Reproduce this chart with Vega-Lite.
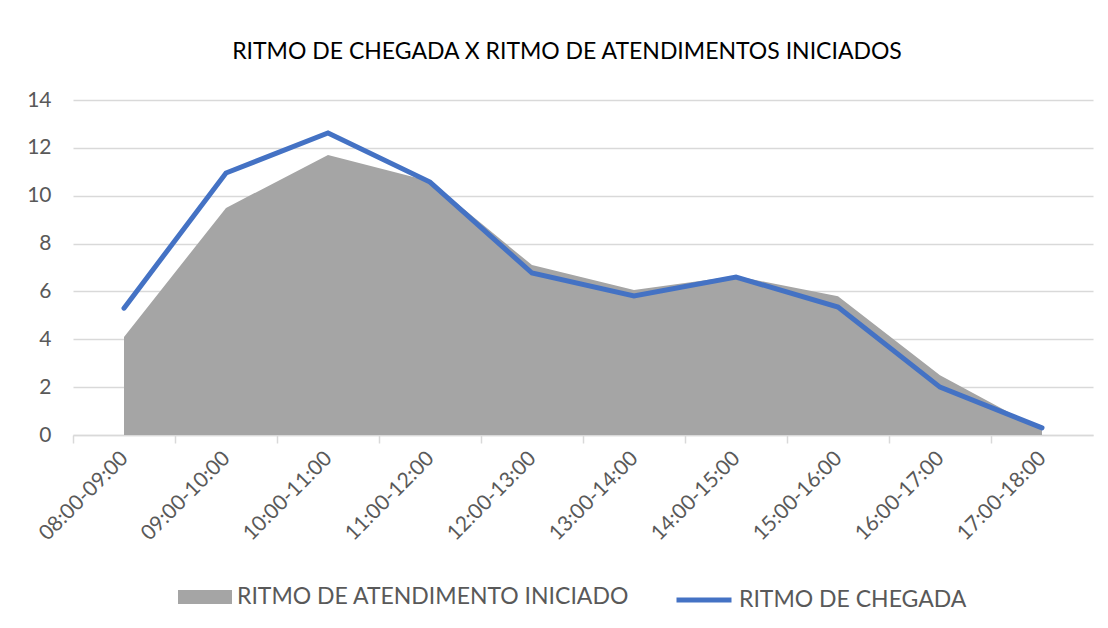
{
  "$schema": "https://vega.github.io/schema/vega-lite/v6.json",
  "width": 1020,
  "height": 335,
  "autosize": {"type": "none"},
  "padding": {"left": 73, "top": 100, "right": 15, "bottom": 193},
  "background": "white",
  "title": {
    "text": "RITMO DE CHEGADA X RITMO DE ATENDIMENTOS INICIADOS",
    "anchor": "middle",
    "frame": "group",
    "offset": 25,
    "dx": -16,
    "font": "Lato",
    "fontSize": 23,
    "fontWeight": "normal",
    "color": "#000000"
  },
  "data": {
    "values": [
      {"hora": "08:00-09:00", "atendimento": 4.1, "chegada": 5.3},
      {"hora": "09:00-10:00", "atendimento": 9.49, "chegada": 10.95},
      {"hora": "10:00-11:00", "atendimento": 11.7, "chegada": 12.62},
      {"hora": "11:00-12:00", "atendimento": 10.6, "chegada": 10.57},
      {"hora": "12:00-13:00", "atendimento": 7.1, "chegada": 6.77},
      {"hora": "13:00-14:00", "atendimento": 6.06, "chegada": 5.81},
      {"hora": "14:00-15:00", "atendimento": 6.64, "chegada": 6.6},
      {"hora": "15:00-16:00", "atendimento": 5.8, "chegada": 5.35},
      {"hora": "16:00-17:00", "atendimento": 2.5, "chegada": 2.0},
      {"hora": "17:00-18:00", "atendimento": 0.2, "chegada": 0.3}
    ]
  },
  "encoding": {
    "x": {
      "field": "hora",
      "type": "ordinal",
      "sort": null,
      "scale": {"type": "band", "paddingInner": 0, "paddingOuter": 0},
      "axis": {
        "title": null,
        "bandPosition": 0,
        "labelOffset": 1,
        "labelAngle": -45,
        "labelAlign": "right",
        "labelBaseline": "middle",
        "labelFont": "Lato",
        "labelFontSize": 21,
        "labelColor": "#595959",
        "labelPadding": 12,
        "domainColor": "#d9d9d9",
        "domainWidth": 1.5,
        "tickColor": "#d9d9d9",
        "tickWidth": 1.5,
        "tickSize": 8,
        "grid": false
      }
    }
  },
  "layer": [
    {
      "mark": {"type": "area", "opacity": 1},
      "encoding": {
        "y": {
          "field": "atendimento",
          "type": "quantitative",
          "scale": {"domain": [0, 14]},
          "axis": {
            "title": null,
            "values": [0, 2, 4, 6, 8, 10, 12, 14],
            "domain": false,
            "ticks": false,
            "labelFont": "Lato",
            "labelFontSize": 21,
            "labelColor": "#595959",
            "labelPadding": 22,
            "gridColor": "#d9d9d9",
            "gridWidth": 1.5
          }
        },
        "fill": {
          "datum": "RITMO DE ATENDIMENTO INICIADO",
          "scale": {"range": ["#a5a5a5"]},
          "legend": {
            "title": null,
            "orient": "none",
            "legendX": 105,
            "legendY": 470,
            "padding": 0,
            "symbolType": "M-1,-0.26L1,-0.26L1,0.26L-1,0.26Z",
            "symbolSize": 2916,
            "symbolStrokeWidth": 0,
            "labelFont": "Lato",
            "labelFontSize": 23,
            "labelColor": "#595959",
            "labelOffset": 5,
            "labelLimit": 500
          }
        }
      }
    },
    {
      "mark": {"type": "line", "strokeWidth": 5, "strokeCap": "round"},
      "encoding": {
        "y": {"field": "chegada", "type": "quantitative"},
        "stroke": {
          "datum": "RITMO DE CHEGADA",
          "scale": {"range": ["#4472c4"]},
          "legend": {
            "title": null,
            "orient": "none",
            "legendX": 601,
            "legendY": 470,
            "padding": 0,
            "symbolType": "stroke",
            "symbolSize": 3025,
            "symbolStrokeWidth": 5,
            "labelFont": "Lato",
            "labelFontSize": 23,
            "labelColor": "#595959",
            "labelOffset": 5,
            "labelLimit": 500
          }
        }
      }
    }
  ],
  "config": {
    "view": {"stroke": null}
  }
}
